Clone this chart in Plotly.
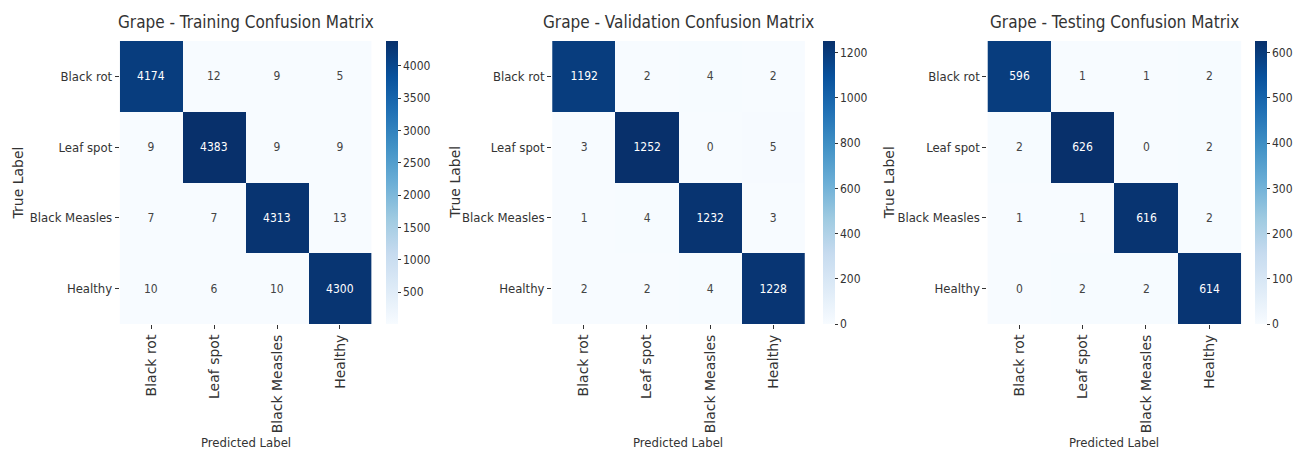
import plotly.graph_objects as go

classes = ["Black rot", "Leaf spot", "Black Measles", "Healthy"]

train_cm = [[4174, 12, 9, 5],
            [9, 4383, 9, 9],
            [7, 7, 4313, 13],
            [10, 6, 10, 4300]]
val_cm = [[1192, 2, 4, 2],
          [3, 1252, 0, 5],
          [1, 4, 1232, 3],
          [2, 2, 4, 1228]]
test_cm = [[596, 1, 1, 2],
           [2, 626, 0, 2],
           [1, 1, 616, 2],
           [0, 2, 2, 614]]

titles = ["Grape - Training Confusion Matrix",
          "Grape - Validation Confusion Matrix",
          "Grape - Testing Confusion Matrix"]
cb_dticks = [500, 200, 100]
cb_tick0 = [500, 0, 0]

blues = [[0.0, "#f7fbff"], [0.125, "#deebf7"], [0.25, "#c6dbef"], [0.375, "#9ecae1"],
         [0.5, "#6baed6"], [0.625, "#4292c6"], [0.75, "#2171b5"], [0.875, "#08519c"],
         [1.0, "#08306b"]]

OFF = 8  # default page body margin
W, H = 1301 - 2 * OFF, 460 - 2 * OFF
def px(x):
    return (x - OFF) / W
def py(y):
    return 1 - (y - OFF) / H

x_dom_px = [(120, 372), (553, 806), (989, 1243)]
cb_px = [387, 824, 1257]
ylab_px = [18, 455, 890]
y_top, y_bot = 41, 324
ydom = [py(y_bot), py(y_top)]

CF = "DejaVu Sans Condensed, Liberation Sans Narrow, DejaVu Sans, sans-serif"
TXT = "#333333"

fig = go.Figure()
anns = []
for i, (cm, title) in enumerate(zip([train_cm, val_cm, test_cm], titles)):
    n = "" if i == 0 else str(i + 1)
    flat = [v for r in cm for v in r]
    fig.add_trace(go.Heatmap(
        z=cm, x=classes, y=classes,
        colorscale=blues, zmin=min(flat), zmax=max(flat),
        xaxis="x" + n, yaxis="y" + n,
        texttemplate="%{z}", textfont=dict(size=12, family=CF),
        hoverinfo="skip",
        colorbar=dict(x=px(cb_px[i]), xanchor="left", xpad=0, ypad=0,
                      y=ydom[0], yanchor="bottom",
                      len=ydom[1] - ydom[0], lenmode="fraction", thickness=12,
                      outlinewidth=0, ticks="outside", ticklen=3, tickcolor=TXT,
                      tickfont=dict(size=12, family=CF, color=TXT),
                      tick0=cb_tick0[i], dtick=cb_dticks[i]),
    ))
    xd = [px(x_dom_px[i][0]), px(x_dom_px[i][1])]
    fig.layout["xaxis" + n] = dict(
        domain=xd, anchor="y" + n, tickangle=-90, ticks="outside", ticklen=4,
        tickcolor=TXT, tickfont=dict(size=14, family="DejaVu Sans", color=TXT),
        showgrid=False, zeroline=False, showline=False)
    fig.layout["yaxis" + n] = dict(
        domain=ydom, anchor="x" + n, autorange="reversed", ticks="outside", ticklen=4,
        tickcolor=TXT, tickfont=dict(size=13, family=CF, color=TXT),
        showgrid=False, zeroline=False, showline=False)
    xc = (xd[0] + xd[1]) / 2
    anns.append(dict(text=title, x=xc, y=py(22), xref="paper", yref="paper",
                     showarrow=False, font=dict(size=17, family=CF, color=TXT),
                     xanchor="center", yanchor="middle"))
    anns.append(dict(text="Predicted Label", x=xc, y=0, xref="paper", yref="paper",
                     showarrow=False, font=dict(size=13, family=CF, color=TXT),
                     xanchor="center", yanchor="bottom"))
    anns.append(dict(text="True Label", x=px(ylab_px[i]), y=(ydom[0] + ydom[1]) / 2,
                     xref="paper", yref="paper", textangle=-90,
                     showarrow=False, font=dict(size=14, family="DejaVu Sans", color=TXT),
                     xanchor="center", yanchor="middle"))

fig.update_layout(width=W, height=H, margin=dict(l=0, r=0, t=0, b=0),
                  paper_bgcolor="white", plot_bgcolor="white", annotations=anns,
                  showlegend=False)
fig.write_html("out.html")
